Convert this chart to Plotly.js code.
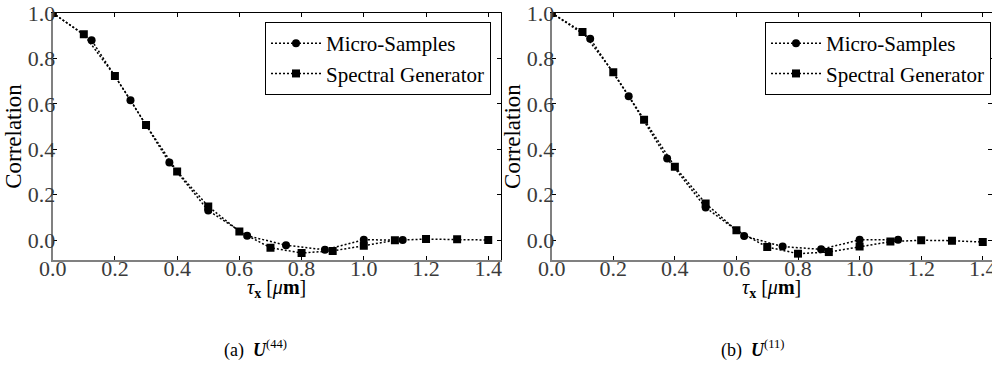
<!DOCTYPE html>
<html>
<head>
<meta charset="utf-8">
<script src="https://cdn.plot.ly/plotly-3.0.1.min.js"></script>
<style>html,body{margin:0;padding:0;background:#fff;}#chart{width:992px;height:370px;}</style>
</head>
<body>
<div id="chart"></div>
<script>
// ---- data ----
const microX = [0.0, 0.125, 0.25, 0.375, 0.5, 0.625, 0.75, 0.875, 1.0, 1.125];
const spectralX = [0.0, 0.1, 0.2, 0.3, 0.4, 0.5, 0.6, 0.7, 0.8, 0.9, 1.0, 1.1, 1.2, 1.3, 1.4];

const microA = [1.0, 0.880, 0.616, 0.341, 0.130, 0.019, -0.023, -0.043, 0.001, 0.000];
const spectralA = [1.0, 0.906, 0.722, 0.507, 0.302, 0.148, 0.038, -0.034, -0.057, -0.048, -0.025, -0.001, 0.004, 0.003, 0.000];

const microB = [1.0, 0.887, 0.633, 0.359, 0.143, 0.018, -0.029, -0.041, 0.001, 0.001];
const spectralB = [1.0, 0.916, 0.739, 0.530, 0.323, 0.161, 0.043, -0.031, -0.060, -0.053, -0.029, -0.007, -0.001, -0.003, -0.009];

const seriesNames = ["Micro-Samples", "Spectral Generator"];
const captions = ["(a)  <b><i>U</i></b><sup>(44)</sup>", "(b)  <b><i>U</i></b><sup>(11)</sup>"];
const xTickVals = [0.0, 0.2, 0.4, 0.6, 0.8, 1.0, 1.2, 1.4];
const yTickVals = [0.0, 0.2, 0.4, 0.6, 0.8, 1.0];
const xTitle = "<i>τ</i><sub><b>x</b></sub> [<i>μ</i><b>m</b>]";
const yTitle = "Correlation";

// ---- styling ----
const FONT = "'Liberation Serif', 'Times New Roman', serif";
const lineStyle = {color: "black", width: 1.5, dash: "2px,2px"};

function mk(x, y, name, symbol, size, xa, ya, leg, show) {
  return {
    x: x, y: y, name: name, type: "scatter", mode: "lines+markers",
    xaxis: xa, yaxis: ya, legend: leg, showlegend: show,
    line: lineStyle,
    marker: {symbol: symbol, size: size, color: "black"}
  };
}

const traces = [
  mk(microX, microA, seriesNames[0], "circle", 8, "x", "y", "legend", true),
  mk(spectralX, spectralA, seriesNames[1], "square", 8, "x", "y", "legend", true),
  mk(microX, microB, seriesNames[0], "circle", 8, "x2", "y2", "legend2", true),
  mk(spectralX, spectralB, seriesNames[1], "square", 8, "x2", "y2", "legend2", true),
  {x: [], y: [], xaxis: "x3", yaxis: "y3", type: "scatter", showlegend: false, hoverinfo: "skip"},
  {x: [], y: [], xaxis: "x4", yaxis: "y4", type: "scatter", showlegend: false, hoverinfo: "skip"}
];

const W = 992, H = 370;
const mT = 13, mB = 110;
const plotH = H - mT - mB;
const x1L = 52.7, x1R = 501, x2L = 551.7, x2R = 992;
const d1 = [x1L / W, x1R / W];
const d2 = [x2L / W, x2R / W];
const xr1 = [0, 1.441];
const xr2 = [0, (x2R - x2L) / 307.9];
const yr = [-0.088, 1.0];

const tickFont = {family: FONT, size: 22, color: "#3a3a3a"};

function baseX(domain, range, anchor) {
  return {
    domain: domain, range: range, anchor: anchor,
    tickvals: xTickVals, tickformat: ".1f",
    ticks: "inside", ticklen: 4, tickcolor: "black", tickwidth: 1,
    showline: true, linecolor: "#808080", linewidth: 2,
    showgrid: false, zeroline: false, tickfont: tickFont,
    ticklabeloverflow: "allow", ticklabelstandoff: -12
  };
}
function baseY(range, anchor) {
  return {
    domain: [0, 1], range: range, anchor: anchor,
    tickvals: yTickVals, tickformat: ".1f",
    ticks: "inside", ticklen: 4, tickcolor: "black", tickwidth: 1,
    showline: true, linecolor: "#808080", linewidth: 2,
    showgrid: false, zeroline: false, tickfont: tickFont,
    ticklabelstandoff: -9,
    title: {text: yTitle, font: {family: FONT, size: 23, color: "black"}, standoff: 0}
  };
}
function topX(over, range, anchor) {
  return {
    overlaying: over, side: "top", anchor: anchor, range: range,
    tickvals: xTickVals, showticklabels: false,
    ticks: "inside", ticklen: 4, tickcolor: "black",
    showline: true, linecolor: "black", linewidth: 1,
    showgrid: false, zeroline: false
  };
}
function rightY(over, range, anchor) {
  return {
    overlaying: over, side: "right", anchor: anchor, range: range,
    tickvals: yTickVals, showticklabels: false,
    ticks: "inside", ticklen: 4, tickcolor: "black",
    showline: true, linecolor: "black", linewidth: 1,
    showgrid: false, zeroline: false
  };
}

const legendCommon = {
  yanchor: "top", xanchor: "right",
  bgcolor: "white", bordercolor: "black", borderwidth: 1,
  font: {family: FONT, size: 21, color: "black"},
  itemwidth: 50, tracegroupgap: 0
};

function paperY(px) { return (H - mB - px) / plotH; }

const layout = {
  width: W, height: H,
  margin: {l: 0, r: 0, t: mT, b: mB, pad: 0},
  paper_bgcolor: "white", plot_bgcolor: "white",
  showlegend: true,
  font: {family: FONT, color: "black"},
  xaxis: baseX(d1, xr1, "y"),
  yaxis: baseY(yr, "x"),
  xaxis2: baseX(d2, xr2, "y2"),
  yaxis2: baseY(yr, "x2"),
  xaxis3: topX("x", xr1, "y"),
  yaxis3: rightY("y", yr, "x"),
  xaxis4: topX("x2", xr2, "y2"),
  yaxis4: rightY("y2", yr, "x2"),
  legend: Object.assign({x: 491 / W, y: paperY(22)}, legendCommon),
  legend2: Object.assign({x: 991 / W, y: paperY(22)}, legendCommon),
  annotations: [
    {text: xTitle, xref: "paper", yref: "paper", x: (x1L + x1R) / 2 / W, y: paperY(288),
     xanchor: "center", yanchor: "middle", showarrow: false, font: {family: FONT, size: 20, color: "black"}},
    {text: xTitle, xref: "paper", yref: "paper", x: (x2L + x2R) / 2 / W, y: paperY(288),
     xanchor: "center", yanchor: "middle", showarrow: false, font: {family: FONT, size: 20, color: "black"}},
    {text: captions[0], xref: "paper", yref: "paper", x: 255 / W, y: paperY(349),
     xanchor: "center", yanchor: "middle", showarrow: false, font: {family: FONT, size: 18, color: "black"}},
    {text: captions[1], xref: "paper", yref: "paper", x: 753 / W, y: paperY(349),
     xanchor: "center", yanchor: "middle", showarrow: false, font: {family: FONT, size: 18, color: "black"}}
  ]
};

Plotly.newPlot("chart", traces, layout, {staticPlot: true, displayModeBar: false});
</script>
</body>
</html>
